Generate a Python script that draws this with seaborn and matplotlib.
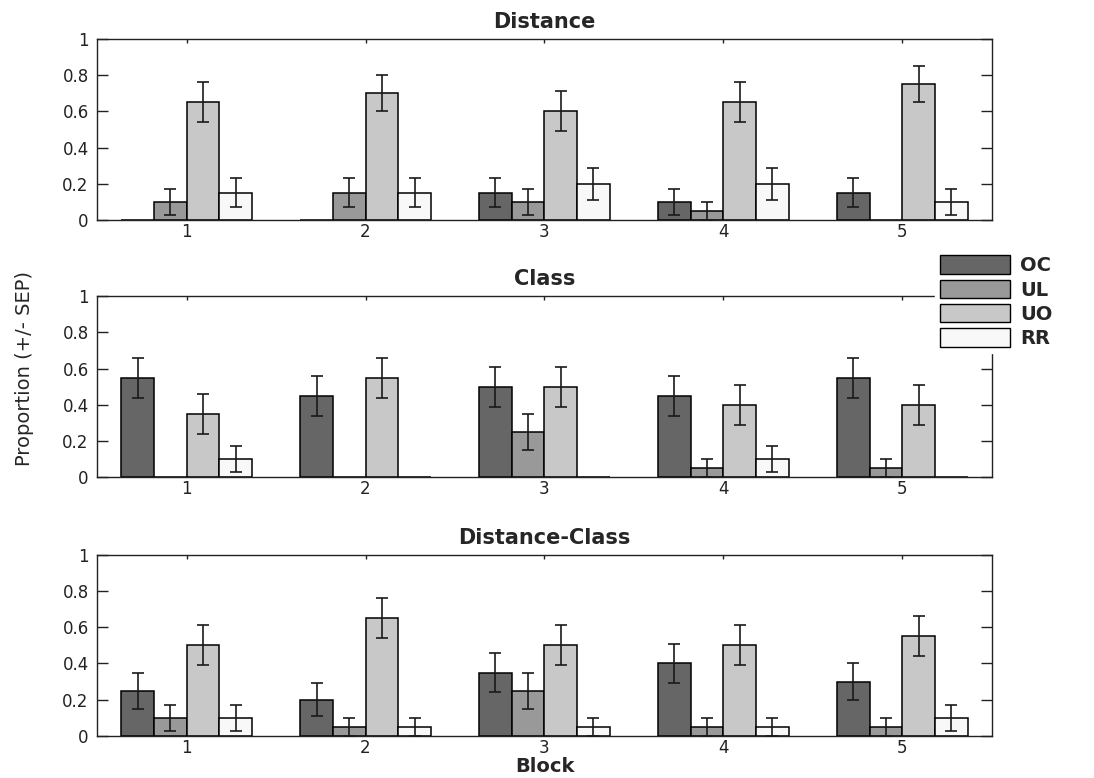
import numpy as np
import pandas as pd
import matplotlib
matplotlib.use('Agg')
import matplotlib.pyplot as plt
from matplotlib.patches import Patch
import seaborn as sns

# ---------------------------------------------------------------------------
# Data (proportion and +/- SEP per block)
# ---------------------------------------------------------------------------
BLOCKS = [1, 2, 3, 4, 5]
MEASURES = ['OC', 'UL', 'UO', 'RR']
COLORS = ['#666666', '#999999', '#c8c8c8', '#f8f8f8']

# Distance
dist_oc = [0.00, 0.00, 0.15, 0.10, 0.15]
dist_ul = [0.10, 0.15, 0.10, 0.05, 0.00]
dist_uo = [0.65, 0.70, 0.60, 0.65, 0.75]
dist_rr = [0.15, 0.15, 0.20, 0.20, 0.10]
dist_oc_err = [0.00, 0.00, 0.08, 0.07, 0.08]
dist_ul_err = [0.07, 0.08, 0.07, 0.05, 0.00]
dist_uo_err = [0.11, 0.10, 0.11, 0.11, 0.10]
dist_rr_err = [0.08, 0.08, 0.09, 0.09, 0.07]

# Class
cls_oc = [0.55, 0.45, 0.50, 0.45, 0.55]
cls_ul = [0.00, 0.00, 0.25, 0.05, 0.05]
cls_uo = [0.35, 0.55, 0.50, 0.40, 0.40]
cls_rr = [0.10, 0.00, 0.00, 0.10, 0.00]
cls_oc_err = [0.11, 0.11, 0.11, 0.11, 0.11]
cls_ul_err = [0.00, 0.00, 0.10, 0.05, 0.05]
cls_uo_err = [0.11, 0.11, 0.11, 0.11, 0.11]
cls_rr_err = [0.07, 0.00, 0.00, 0.07, 0.00]

# Distance-Class
dc_oc = [0.25, 0.20, 0.35, 0.40, 0.30]
dc_ul = [0.10, 0.05, 0.25, 0.05, 0.05]
dc_uo = [0.50, 0.65, 0.50, 0.50, 0.55]
dc_rr = [0.10, 0.05, 0.05, 0.05, 0.10]
dc_oc_err = [0.10, 0.09, 0.11, 0.11, 0.10]
dc_ul_err = [0.07, 0.05, 0.10, 0.05, 0.05]
dc_uo_err = [0.11, 0.11, 0.11, 0.11, 0.11]
dc_rr_err = [0.07, 0.05, 0.05, 0.05, 0.07]

PANELS = [
    ('Distance', [dist_oc, dist_ul, dist_uo, dist_rr],
     [dist_oc_err, dist_ul_err, dist_uo_err, dist_rr_err]),
    ('Class', [cls_oc, cls_ul, cls_uo, cls_rr],
     [cls_oc_err, cls_ul_err, cls_uo_err, cls_rr_err]),
    ('Distance-Class', [dc_oc, dc_ul, dc_uo, dc_rr],
     [dc_oc_err, dc_ul_err, dc_uo_err, dc_rr_err]),
]

# ---------------------------------------------------------------------------
# Figure
# ---------------------------------------------------------------------------
sns.set_theme(style='white')
plt.rcParams['font.family'] = ['DejaVu Sans']

fig = plt.figure(figsize=(10.94, 7.78), dpi=100)
# axes boxes (left, bottom, width, height) in figure fraction
boxes = [(0.0887, 0.717, 0.818, 0.233),
         (0.0887, 0.3865, 0.818, 0.233),
         (0.0887, 0.054, 0.818, 0.233)]

for (title, values, errors), box in zip(PANELS, boxes):
    ax = fig.add_axes(box)
    rows = []
    for m, vals in zip(MEASURES, values):
        for b, v in zip(BLOCKS, vals):
            rows.append({'block': b, 'measure': m, 'prop': v})
    df = pd.DataFrame(rows)

    sns.barplot(data=df, x='block', y='prop', hue='measure',
                hue_order=MEASURES, palette=COLORS, width=0.73,
                edgecolor='black', linewidth=1.1, errorbar=None,
                legend=False, ax=ax)

    # error bars on top of each bar
    for cont, errs in zip(ax.containers, errors):
        for bar, e in zip(cont, errs):
            if e <= 0:
                continue
            cx = bar.get_x() + bar.get_width() / 2
            ax.errorbar(cx, bar.get_height(), yerr=e, fmt='none',
                        ecolor='#1a1a1a', elinewidth=1.2, capsize=4,
                        capthick=1.2, zorder=5)

    ax.set_xlim(-0.5, 4.5)
    ax.set_ylim(0, 1)
    ax.set_yticks([0, 0.2, 0.4, 0.6, 0.8, 1])
    ax.set_yticklabels(['0', '0.2', '0.4', '0.6', '0.8', '1'])
    ax.set_xlabel('')
    ax.set_ylabel('')
    ax.set_title(title, fontsize=15, fontweight='bold', pad=8)
    for sp in ax.spines.values():
        sp.set_visible(True)
        sp.set_color('#222222')
        sp.set_linewidth(1.0)
    ax.tick_params(axis='y', direction='in', length=8, width=1,
                   left=True, right=True, labelsize=12, pad=6,
                   colors='#222222')
    ax.tick_params(axis='x', direction='in', length=3, width=1,
                   bottom=True, top=True, labelsize=12, pad=2,
                   colors='#222222')

ax.set_xlabel('Block', fontsize=14, fontweight='bold', labelpad=0.5)

fig.text(0.022, 0.526, 'Proportion (+/- SEP)', rotation=90,
         ha='center', va='center', fontsize=14)

handles = [Patch(facecolor=c, edgecolor='black', linewidth=1.0)
           for c in COLORS]
fig.legend(handles, MEASURES, loc='upper left',
           bbox_to_anchor=(0.855, 0.678), frameon=True, fancybox=False,
           facecolor='white', edgecolor='white', framealpha=1,
           handlelength=3.6, handleheight=1.1, labelspacing=0.22,
           borderpad=0.25, handletextpad=0.5, borderaxespad=0,
           prop={'size': 14, 'weight': 'bold'})

plt.savefig('out.png', dpi=100, facecolor='white')
